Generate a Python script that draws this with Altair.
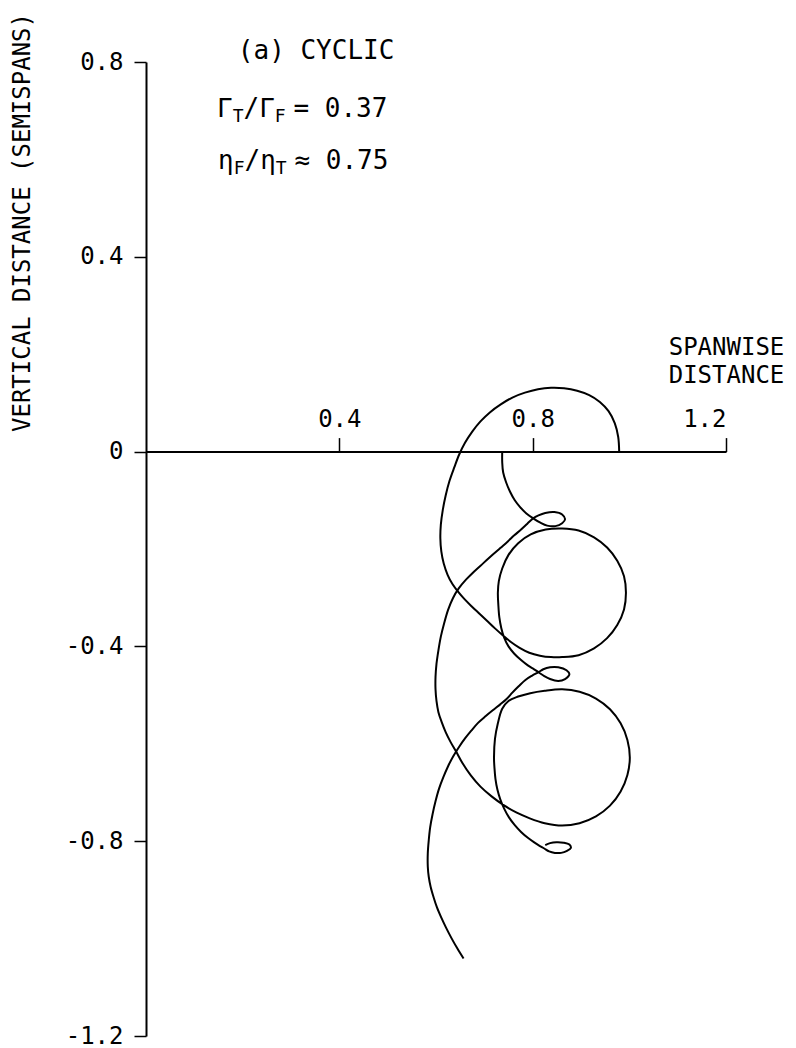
import altair as alt
import pandas as pd

# Tip-vortex path: over-the-top arc, first large loop, small loop, long outer arc
tip_x = [0.979, 0.977, 0.970, 0.957, 0.939, 0.917, 0.892, 0.865, 0.838, 0.811,
         0.784, 0.758, 0.734, 0.712, 0.692, 0.675, 0.660, 0.648, 0.638, 0.628,
         0.620, 0.614, 0.610, 0.609, 0.611, 0.616, 0.624, 0.634, 0.646, 0.659,
         0.674, 0.690, 0.706, 0.722, 0.738, 0.755, 0.773, 0.793, 0.815, 0.838,
         0.861, 0.895, 0.927, 0.954, 0.975, 0.989, 0.993, 0.989, 0.975, 0.954,
         0.927, 0.895, 0.861, 0.827, 0.796, 0.770, 0.750, 0.737, 0.730, 0.728,
         0.729, 0.731, 0.735, 0.741, 0.750, 0.762, 0.776, 0.790, 0.803, 0.812,
         0.824, 0.836, 0.853, 0.867, 0.876, 0.870, 0.853, 0.836, 0.822, 0.812,
         0.799, 0.785, 0.771, 0.758, 0.746, 0.733, 0.719, 0.703, 0.687, 0.673,
         0.660, 0.648, 0.636, 0.625, 0.615, 0.606, 0.599, 0.593, 0.588, 0.585,
         0.583, 0.583, 0.585, 0.589, 0.595, 0.602, 0.611, 0.621, 0.632, 0.644,
         0.657]
tip_y = [0.000, 0.030, 0.058, 0.083, 0.102, 0.116, 0.125, 0.130, 0.131, 0.128,
         0.121, 0.111, 0.097, 0.081, 0.062, 0.041, 0.018, -0.006, -0.032, -0.060,
         -0.090, -0.120, -0.150, -0.178, -0.205, -0.230, -0.253, -0.272, -0.288, -0.303,
         -0.318, -0.333, -0.348, -0.363, -0.377, -0.391, -0.403, -0.413, -0.419, -0.422,
         -0.422, -0.418, -0.404, -0.383, -0.356, -0.324, -0.290, -0.256, -0.224, -0.197,
         -0.176, -0.162, -0.158, -0.160, -0.170, -0.188, -0.212, -0.240, -0.266, -0.290,
         -0.315, -0.340, -0.362, -0.382, -0.400, -0.415, -0.428, -0.439, -0.447, -0.453,
         -0.461, -0.467, -0.471, -0.467, -0.457, -0.449, -0.443, -0.443, -0.447, -0.453,
         -0.460, -0.469, -0.482, -0.495, -0.508, -0.519, -0.530, -0.543, -0.557, -0.573,
         -0.589, -0.606, -0.625, -0.646, -0.669, -0.693, -0.718, -0.744, -0.771, -0.798,
         -0.825, -0.852, -0.873, -0.894, -0.915, -0.936, -0.957, -0.978, -0.999, -1.020,
         -1.041]

# Flap-vortex path: small loop, long outer arc, second large loop, small loop
flap_x = [0.737, 0.737, 0.739, 0.745, 0.753, 0.763, 0.774, 0.787, 0.801, 0.816,
          0.830, 0.847, 0.861, 0.867, 0.861, 0.845, 0.826, 0.812, 0.801, 0.789,
          0.776, 0.762, 0.748, 0.733, 0.717, 0.698, 0.679, 0.662, 0.647, 0.635,
          0.625, 0.617, 0.610, 0.605, 0.601, 0.599, 0.599, 0.601, 0.605, 0.612,
          0.620, 0.630, 0.641, 0.655, 0.672, 0.692, 0.715, 0.740, 0.766, 0.794,
          0.825, 0.861, 0.897, 0.931, 0.960, 0.982, 0.996, 1.001, 0.996, 0.982,
          0.960, 0.931, 0.897, 0.861, 0.825, 0.795, 0.770, 0.750, 0.737, 0.728,
          0.722, 0.720, 0.721, 0.723, 0.727, 0.733, 0.741, 0.751, 0.763, 0.776,
          0.790, 0.804, 0.815, 0.824, 0.834, 0.846, 0.859, 0.871, 0.879, 0.876,
          0.864, 0.849, 0.836, 0.826]
flap_y = [0.000, -0.022, -0.043, -0.063, -0.082, -0.100, -0.114, -0.127, -0.137, -0.146,
          -0.152, -0.153, -0.147, -0.139, -0.129, -0.124, -0.126, -0.131, -0.137, -0.148,
          -0.160, -0.172, -0.185, -0.198, -0.212, -0.229, -0.246, -0.263, -0.281, -0.301,
          -0.325, -0.352, -0.380, -0.408, -0.436, -0.463, -0.488, -0.512, -0.535, -0.556,
          -0.576, -0.596, -0.615, -0.640, -0.665, -0.688, -0.708, -0.726, -0.741, -0.753,
          -0.763, -0.768, -0.763, -0.749, -0.727, -0.698, -0.664, -0.628, -0.592, -0.558,
          -0.529, -0.507, -0.493, -0.488, -0.491, -0.496, -0.503, -0.512, -0.528, -0.558,
          -0.590, -0.628, -0.650, -0.672, -0.694, -0.714, -0.733, -0.751, -0.767, -0.781,
          -0.793, -0.803, -0.810, -0.815, -0.821, -0.824, -0.824, -0.820, -0.814, -0.807,
          -0.803, -0.802, -0.804, -0.808]

x_ticks = [0.4, 0.8, 1.2]
y_ticks = [0.8, 0.4, 0.0, -0.4, -0.8, -1.2]

FONT = "DejaVu Sans Mono"
W, H = 580, 974
X_DOM = [0, 1.2]
Y_DOM = [-1.2, 0.8]

rows = []
for name, xs, ys in (("tip", tip_x, tip_y), ("flap", flap_x, flap_y)):
    for i, (a, b) in enumerate(zip(xs, ys)):
        rows.append({"vortex": name, "seq": i, "x": a, "y": b})
paths = pd.DataFrame(rows)

x_scale = alt.Scale(domain=X_DOM, nice=False, zero=False)
y_scale = alt.Scale(domain=Y_DOM, nice=False, zero=False)

# the spanwise axis sits on the y = 0 line
x_axis_offset = -H * (Y_DOM[1] - 0) / (Y_DOM[1] - Y_DOM[0])

x_enc = alt.X(
    "x:Q", scale=x_scale,
    axis=alt.Axis(
        orient="top", offset=x_axis_offset, values=x_ticks, format=".1f",
        grid=False, domainColor="black", domainWidth=2,
        tickColor="black", tickWidth=1.5, tickSize=14,
        labelFont=FONT, labelFontSize=24, labelColor="black", labelPadding=6,
        title=["SPANWISE", "DISTANCE"], titleFont=FONT, titleFontSize=24,
        titleFontWeight="normal", titleColor="black", titleAngle=0,
        titleAlign="center", titleBaseline="middle", titleLineHeight=28,
        titleX=580, titleY=-104,
    ),
)
y_enc = alt.Y(
    "y:Q", scale=y_scale,
    axis=alt.Axis(
        orient="left", values=y_ticks,
        labelExpr="datum.value == 0 ? '0' : (datum.value < 0 ? '-' + format(-datum.value, '.1f') : format(datum.value, '.1f'))",
        grid=False, domainColor="black", domainWidth=2,
        tickColor="black", tickWidth=1.5, tickSize=12,
        labelFont=FONT, labelFontSize=24, labelColor="black", labelPadding=11,
        title="VERTICAL DISTANCE (SEMISPANS)", titleFont=FONT, titleFontSize=24,
        titleFontWeight="normal", titleColor="black", titleAngle=270,
        titleAlign="center", titleBaseline="middle", titleX=-124, titleY=160,
    ),
)

lines = alt.Chart(paths).mark_line(
    color="black", strokeWidth=2, interpolate="catmull-rom"
).encode(x=x_enc, y=y_enc, order="seq:Q", detail="vortex:N")

# annotation block: "(a) CYCLIC", circulation ratio, span-station ratio
NOTE_FS, SUB_FS = 26, 18
px = (X_DOM[1] - X_DOM[0]) / W
cw, cw_sub = 0.602 * NOTE_FS * px, 0.602 * SUB_FS * px
x0_a, x0_g, x0_e = 0.19, 0.147, 0.149
y_a, y_g, y_e = 0.822, 0.704, 0.596

main_txt = pd.DataFrame([
    {"x": x0_a, "y": y_a, "t": "(a) CYCLIC"},
    {"x": x0_g, "y": y_g, "t": "Γ"},
    {"x": x0_g + cw + cw_sub, "y": y_g, "t": "/Γ"},
    {"x": x0_g + 3 * cw + 2 * cw_sub + 0.5 * cw, "y": y_g, "t": "= 0.37"},
    {"x": x0_e, "y": y_e, "t": "η"},
    {"x": x0_e + cw + cw_sub, "y": y_e, "t": "/η"},
    {"x": x0_e + 3 * cw + 2 * cw_sub + 0.5 * cw, "y": y_e, "t": "≈ 0.75"},
])
sub_txt = pd.DataFrame([
    {"x": x0_g + cw, "y": y_g, "t": "T"},
    {"x": x0_g + 3 * cw + cw_sub, "y": y_g, "t": "F"},
    {"x": x0_e + cw, "y": y_e, "t": "F"},
    {"x": x0_e + 3 * cw + cw_sub, "y": y_e, "t": "T"},
])

notes = alt.Chart(main_txt).mark_text(
    font=FONT, fontSize=NOTE_FS, color="black", align="left", baseline="middle"
).encode(x=alt.X("x:Q", scale=x_scale), y=alt.Y("y:Q", scale=y_scale), text="t:N")
subs = alt.Chart(sub_txt).mark_text(
    font=FONT, fontSize=SUB_FS, color="black", align="left", baseline="middle", dy=8
).encode(x=alt.X("x:Q", scale=x_scale), y=alt.Y("y:Q", scale=y_scale), text="t:N")

chart = (
    alt.layer(lines, notes, subs)
    .properties(
        width=W, height=H, background="white",
        autosize=alt.AutoSizeParams(type="none"),
        padding={"left": 146, "top": 62, "right": 70, "bottom": 12},
    )
    .configure_view(stroke=None)
)

chart.save("out.html", embed_options={"renderer": "svg", "actions": False})
